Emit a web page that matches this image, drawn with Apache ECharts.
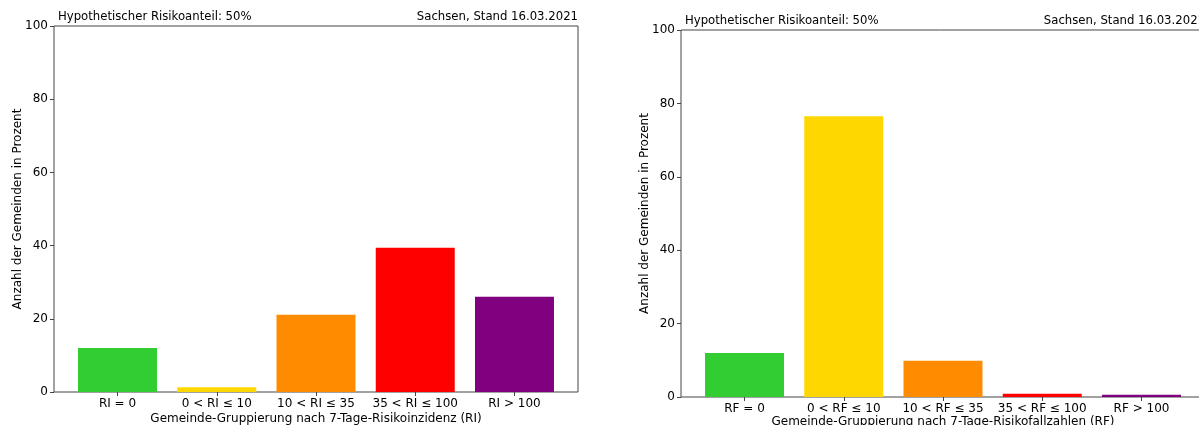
<!DOCTYPE html>
<html>
<head>
<meta charset="utf-8">
<script src="https://cdn.jsdelivr.net/npm/echarts@6/dist/echarts.min.js"></script>
<style>
  html, body { margin: 0; padding: 0; background: #fff; }
  #chart { width: 1199px; height: 425px; }
</style>
</head>
<body>
<div id="chart"></div>
<script>
// Gruppen (links: Risikoinzidenz, rechts: Risikofallzahlen)
var labelsRI = ["RI = 0", "0 < RI ≤ 10", "10 < RI ≤ 35", "35 < RI ≤ 100", "RI > 100"];
var labelsRF = ["RF = 0", "0 < RF ≤ 10", "10 < RF ≤ 35", "35 < RF ≤ 100", "RF > 100"];
var valuesRI = [12.0, 1.3, 21.1, 39.4, 26.0];
var valuesRF = [12.0, 76.5, 9.9, 0.9, 0.6];
var barColors = ["#32CD32", "#FFD700", "#FF8C00", "#FF0000", "#800080"];
var yTicks = [0, 20, 40, 60, 80, 100];

var chart = echarts.init(document.getElementById("chart"));
var font = "DejaVu Sans";

function makeData(values) {
  let out = [];
  for (let i = 0; i < values.length; i++) {
    out.push({ value: [i, values[i]], itemStyle: { color: barColors[i] } });
  }
  return out;
}

function xAxisFor(idx, labels, name, gap) {
  return {
    type: "value",
    gridIndex: idx,
    min: -0.64,
    max: 4.64,
    name: name,
    nameLocation: "middle",
    nameGap: gap,
    nameMoveOverlap: false,
    nameTextStyle: { color: "#000", fontSize: 12, fontFamily: font },
    axisLine: { show: false, onZero: false },
    splitLine: { show: false },
    axisTick: { show: true, length: 4, lineStyle: { color: "#444" }, customValues: [0, 1, 2, 3, 4] },
    axisLabel: {
      color: "#000", fontSize: 12, fontFamily: font, margin: 6,
      customValues: [0, 1, 2, 3, 4],
      formatter: function (v) { return labels[Math.round(v)]; }
    }
  };
}

function yAxisFor(idx) {
  return {
    type: "value",
    gridIndex: idx,
    min: yTicks[0],
    max: yTicks[yTicks.length - 1],
    interval: 20,
    name: "Anzahl der Gemeinden in Prozent",
    nameLocation: "middle",
    nameGap: 30,
    nameMoveOverlap: false,
    nameTextStyle: { color: "#000", fontSize: 12, fontFamily: font },
    axisLine: { show: false, onZero: false },
    splitLine: { show: false },
    axisTick: { show: true, length: 4, lineStyle: { color: "#444" } },
    axisLabel: { color: "#000", fontSize: 12, fontFamily: font, margin: 6 }
  };
}

var titleStyle = { fontSize: 11.7, fontWeight: "normal", color: "#000", fontFamily: font };

var option = {
  animation: false,
  backgroundColor: "#fff",
  title: [
    { text: "Hypothetischer Risikoanteil: 50%", left: 58, top: 11, padding: 0, textStyle: titleStyle },
    { text: "Sachsen, Stand 16.03.2021", right: 621, top: 11, padding: 0, textStyle: titleStyle },
    { text: "Hypothetischer Risikoanteil: 50%", left: 685, top: 15, padding: 0, textStyle: titleStyle },
    { text: "Sachsen, Stand 16.03.2021", right: -6, top: 15, padding: 0, textStyle: titleStyle }
  ],
  grid: [
    { left: 54, top: 26, width: 524, height: 366, outerBoundsMode: "none", containLabel: false,
      show: true, borderColor: "#444", borderWidth: 1, backgroundColor: "transparent" },
    { left: 681, top: 30, width: 524, height: 367, outerBoundsMode: "none", containLabel: false,
      show: true, borderColor: "#444", borderWidth: 1, backgroundColor: "transparent" }
  ],
  xAxis: [
    xAxisFor(0, labelsRI, "Gemeinde-Gruppierung nach 7-Tage-Risikoinzidenz (RI)", 21),
    xAxisFor(1, labelsRF, "Gemeinde-Gruppierung nach 7-Tage-Risikofallzahlen (RF)", 19)
  ],
  yAxis: [yAxisFor(0), yAxisFor(1)],
  series: [
    { type: "bar", xAxisIndex: 0, yAxisIndex: 0, barWidth: 79, data: makeData(valuesRI) },
    { type: "bar", xAxisIndex: 1, yAxisIndex: 1, barWidth: 79, data: makeData(valuesRF) }
  ]
};

chart.setOption(option);
window.addEventListener("resize", () => {
  chart.resize();
});
</script>
</body>
</html>
